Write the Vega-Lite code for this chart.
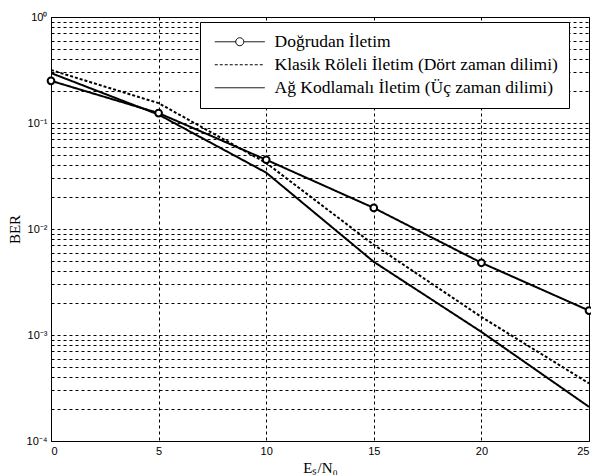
{
  "$schema": "https://vega.github.io/schema/vega-lite/v6.json",
  "width": 538,
  "height": 424,
  "autosize": "none",
  "padding": {"left": 51, "top": 17, "right": 2, "bottom": 34},
  "background": "white",
  "config": {
    "view": {"stroke": "black", "strokeWidth": 1},
    "axis": {"gridColor": "black", "gridDash": [3, 3], "gridOpacity": 1, "gridWidth": 1, "domainColor": "black", "tickColor": "black", "labelFont": "Liberation Sans", "labelFontSize": 11, "labelColor": "black", "titleFont": "Liberation Serif", "titleFontWeight": "normal", "titleFontSize": 15, "titleColor": "black"}
  },
  "data": {"values": [
    {"x": 0, "ber": 0.25, "s": "Doğrudan İletim"},
    {"x": 5, "ber": 0.124, "s": "Doğrudan İletim"},
    {"x": 10, "ber": 0.045, "s": "Doğrudan İletim"},
    {"x": 15, "ber": 0.0158, "s": "Doğrudan İletim"},
    {"x": 20, "ber": 0.0048, "s": "Doğrudan İletim"},
    {"x": 25, "ber": 0.0017, "s": "Doğrudan İletim"},
    {"x": 0, "ber": 0.316, "s": "Klasik Röleli İletim (Dört zaman dilimi)"},
    {"x": 5, "ber": 0.154, "s": "Klasik Röleli İletim (Dört zaman dilimi)"},
    {"x": 10, "ber": 0.042, "s": "Klasik Röleli İletim (Dört zaman dilimi)"},
    {"x": 15, "ber": 0.0071, "s": "Klasik Röleli İletim (Dört zaman dilimi)"},
    {"x": 20, "ber": 0.00148, "s": "Klasik Röleli İletim (Dört zaman dilimi)"},
    {"x": 25, "ber": 0.00035, "s": "Klasik Röleli İletim (Dört zaman dilimi)"},
    {"x": 0, "ber": 0.296, "s": "Ağ Kodlamalı İletim (Üç zaman dilimi)"},
    {"x": 5, "ber": 0.12, "s": "Ağ Kodlamalı İletim (Üç zaman dilimi)"},
    {"x": 10, "ber": 0.034, "s": "Ağ Kodlamalı İletim (Üç zaman dilimi)"},
    {"x": 15, "ber": 0.0049, "s": "Ağ Kodlamalı İletim (Üç zaman dilimi)"},
    {"x": 20, "ber": 0.00107, "s": "Ağ Kodlamalı İletim (Üç zaman dilimi)"},
    {"x": 25, "ber": 0.00021, "s": "Ağ Kodlamalı İletim (Üç zaman dilimi)"}
  ]},
  "layer": [
    {
      "mark": {"type": "line", "color": "black", "strokeWidth": 2, "clip": true},
      "encoding": {
        "x": {"field": "x", "type": "quantitative", "scale": {"domain": [0, 25], "nice": false}, "axis": {"values": [0, 5, 10, 15, 20, 25], "title": "Eₛ/N₀", "tickSize": 0, "labelPadding": 4, "titlePadding": 4, "domain": true}},
        "y": {"field": "ber", "type": "quantitative", "scale": {"type": "log", "domain": [0.0001, 1], "nice": false}, "axis": {"title": "BER", "tickSize": 0, "labelPadding": 4, "titlePadding": 4, "values": [0.0001,0.0002,0.0003,0.0004,0.0005,0.0006,0.0007,0.0008,0.0009,0.001,0.002,0.003,0.004,0.005,0.006,0.007,0.008,0.009,0.01,0.02,0.03,0.04,0.05,0.06,0.07,0.08,0.09,0.1,0.2,0.3,0.4,0.5,0.6,0.7,0.8,0.9,1], "labelExpr": "abs(log(datum.value)/LN10 - round(log(datum.value)/LN10)) < 0.000001 ? ['10⁰','10⁻¹','10⁻²','10⁻³','10⁻⁴'][-round(log(datum.value)/LN10)] : ''"}},
        "detail": {"field": "s"},
        "strokeDash": {"field": "s", "type": "nominal", "scale": {"domain": ["Doğrudan İletim", "Klasik Röleli İletim (Dört zaman dilimi)", "Ağ Kodlamalı İletim (Üç zaman dilimi)"], "range": [[1, 0], [3, 2], [1, 0]]},
          "legend": {"title": null, "orient": "none", "legendX": 149, "legendY": 5, "symbolType": "M-1,0H9", "symbolSize": 100, "symbolStrokeWidth": 1, "symbolStrokeColor": "black", "symbolFillColor": "white", "labelFont": "Liberation Serif", "labelFontSize": 17.5, "labelColor": "black", "strokeColor": "black", "fillColor": "white", "padding": 11, "rowPadding": 4, "labelOffset": 46, "labelLimit": 400,
            "encode": {"symbols": {"update": {
              "shape": {"signal": "datum.value == 'Doğrudan İletim' ? 'M-1,0H3.2M4.8,0H9M4.8,0A0.8,0.8 0 1 1 3.2,0A0.8,0.8 0 1 1 4.8,0' : 'M-1,0H9'"},
              "fill": {"value": "white"},
              "stroke": {"value": "black"},
              "strokeWidth": {"value": 1},
              "opacity": {"value": 1},
              "strokeDash": {"signal": "datum.value == 'Klasik Röleli İletim (Dört zaman dilimi)' ? [4, 3] : [1, 0]"}
            }}}}}
      }
    },
    {
      "transform": [{"filter": "datum.s == 'Doğrudan İletim'"}],
      "mark": {"type": "point", "shape": "circle", "filled": true, "fill": "white", "stroke": "black", "strokeWidth": 2, "size": 45, "opacity": 1, "clip": false},
      "encoding": {
        "x": {"field": "x", "type": "quantitative"},
        "y": {"field": "ber", "type": "quantitative"}
      }
    }
  ]
}
